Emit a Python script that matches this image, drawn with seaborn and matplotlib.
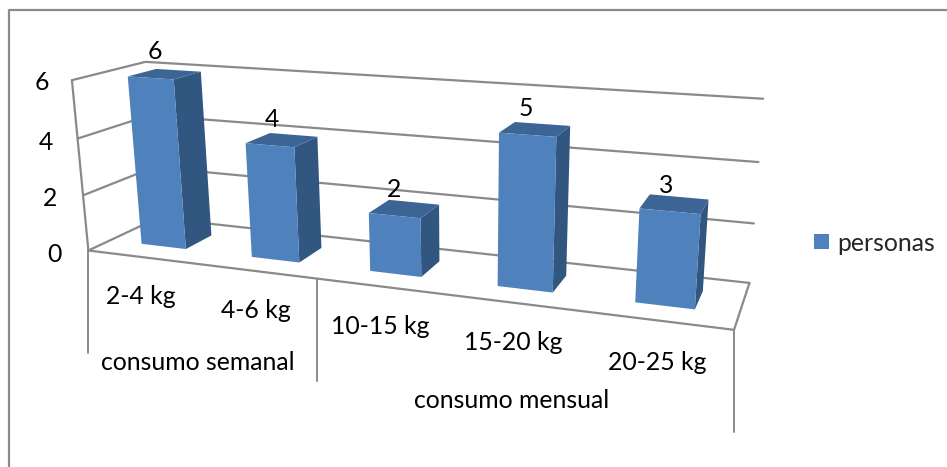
import numpy as np
import pandas as pd
import matplotlib
matplotlib.use("Agg")
import matplotlib.pyplot as plt
from matplotlib.patches import Patch
from matplotlib.transforms import Transform
import seaborn as sns

# Chart data
categories = ["2-4 kg", "4-6 kg", "10-15 kg", "15-20 kg", "20-25 kg"]
groups = ["consumo semanal", "consumo semanal", "consumo mensual", "consumo mensual", "consumo mensual"]
personas = [6, 4, 2, 5, 3]
value_ticks = [0, 2, 4, 6]
series_name = "personas"

# Label placement on the canvas (pixels, y downwards)
category_label_xy = [(141, 297), (255.5, 310), (380, 327), (513, 343), (657, 362)]
group_label_xy = {"consumo semanal": (197.5, 363), "consumo mensual": (512, 401)}
tick_label_xy = [(54, 254), (50, 198), (46, 142), (42, 83)]

FRONT, SIDE, TOP = "#4f81bd", "#31567f", "#3c6494"
GRID = "#8a8a8a"
W, H = 947, 467
BAR_WIDTH = 0.41
DEPTH_NEAR, DEPTH_FAR = 0.30, 0.70
FONT_SIZE = 17.8

sns.set_theme(style="white")
plt.rcParams["font.family"] = ["Lato", "DejaVu Sans"]

# Perspective camera of the 3-D box: (x across, d into the page, z value) -> canvas pixels
box_points = np.array([
    (0, 0, 0, 87, 251), (0, 1, 0, 159, 218), (1, 1, 0, 749, 283), (1, 0, 0, 734, 330),
    (0, 0, 6, 73, 80.5), (0, 1, 6, 144, 62), (1, 1, 6, 763, 99),
    (0, 0, 4, 78, 138), (0, 0, 2, 83, 195), (1, 1, 4, 759, 162), (1, 1, 2, 754, 223),
], dtype=float)
rows, rhs = [], []
for bx, bd, bz, px, py in box_points:
    rows.append([bx, bd, bz, 1, 0, 0, 0, 0, -px * bx, -px * bd, -px * bz])
    rows.append([0, 0, 0, 0, bx, bd, bz, 1, -py * bx, -py * bd, -py * bz])
    rhs += [px, py]
cam = np.append(np.linalg.lstsq(np.array(rows), np.array(rhs), rcond=None)[0], 1.0).reshape(3, 4)


def project(x, d, z):
    x, d, z = np.broadcast_arrays(np.asarray(x, float), np.asarray(d, float), np.asarray(z, float))
    p = cam @ np.vstack([x.ravel(), d.ravel(), z.ravel(), np.ones(x.size)])
    return np.column_stack([p[0] / p[2], p[1] / p[2]])


class DepthPlane(Transform):
    """Maps (category position, value) onto a vertical plane of the box at a given depth."""
    input_dims = output_dims = 2
    has_inverse = False

    def __init__(self, plane_depth, count):
        super().__init__()
        self.plane_depth, self.count = plane_depth, count

    def transform_non_affine(self, values):
        values = np.asarray(values, float)
        return project((values[:, 0] + 0.5) / self.count, self.plane_depth, values[:, 1])


def box_line(ax, xs, ds, zs, **kw):
    pts = project(xs, ds, zs)
    ax.plot(pts[:, 0], pts[:, 1], color=GRID, lw=1.6, zorder=1, solid_capstyle="round", **kw)


fig = plt.figure(figsize=(W / 100, H / 100), dpi=100, facecolor="white")
ax = fig.add_axes([0, 0, 1, 1])

df = pd.DataFrame({"categoria": categories, "personas": personas})
sns.barplot(data=df, x="categoria", y="personas", color=FRONT, saturation=1,
            width=BAR_WIDTH, ax=ax, zorder=3, linewidth=0)
ax.set_xlim(0, W)
ax.set_ylim(H, 0)
ax.axis("off")

# Front faces come from seaborn; side and top faces follow from the same rectangles
n = len(categories)
near = DepthPlane(DEPTH_NEAR, n) + ax.transData
for bar in ax.patches:
    bar.set_transform(near)
    bar.set_clip_on(False)
    x0, x1, v = bar.get_x(), bar.get_x() + bar.get_width(), bar.get_height()
    u0, u1 = (x0 + 0.5) / n, (x1 + 0.5) / n
    side = project([u1, u1, u1, u1], [DEPTH_NEAR, DEPTH_FAR, DEPTH_FAR, DEPTH_NEAR], [0, 0, v, v])
    top = project([u0, u1, u1, u0], [DEPTH_NEAR, DEPTH_NEAR, DEPTH_FAR, DEPTH_FAR], [v, v, v, v])
    ax.fill(side[:, 0], side[:, 1], color=SIDE, lw=0, zorder=2.9)
    ax.fill(top[:, 0], top[:, 1], color=TOP, lw=0, zorder=2.9)

# Walls and floor of the box
for tick in value_ticks:
    box_line(ax, [0, 0, 1], [0, 1, 1], [tick] * 3)
zmax = value_ticks[-1]
box_line(ax, [0, 0], [0, 0], [0, zmax])
box_line(ax, [0, 1, 1], [0, 0, 1], [0, 0, 0])

# Outer chart frame, open at the right and bottom
ax.plot([8.5, 8.5, W], [H, 10, 10], color="#8c8c8c", lw=1.6, zorder=1)

# Separators of the two-level category axis
group_edges = [0, groups.count(groups[0]) / n, 1]
for edge in group_edges:
    top_pt = project(edge, 0, 0)[0]
    ax.plot([top_pt[0]] * 2, [top_pt[1], top_pt[1] + 102], color=GRID, lw=1.4, zorder=1)

text_kw = dict(fontsize=FONT_SIZE, ha="center", va="center", color="black")
for (tx, ty), tick in zip(tick_label_xy, value_ticks):
    ax.text(tx, ty, str(tick), **text_kw)
for (tx, ty), label in zip(category_label_xy, categories):
    ax.text(tx, ty, label, **text_kw)
for label, (tx, ty) in group_label_xy.items():
    ax.text(tx, ty, label, **text_kw)

# Value labels sit above the front edge of each bar top
for i, v in enumerate(personas):
    px, py = project((i + 0.5) / n, DEPTH_NEAR, v)[0]
    ax.text(px + 4 - 2 * i, py - 26, str(v), **text_kw)

ax.legend(handles=[Patch(facecolor=FRONT, edgecolor="none", label=series_name)], loc="center left",
          bbox_to_anchor=(814 / W, 1 - 243 / H), bbox_transform=fig.transFigure,
          frameon=False, fontsize=FONT_SIZE, handlelength=0.61, handleheight=0.57,
          handletextpad=0.33, borderpad=0, borderaxespad=0)

fig.savefig("out.png", dpi=100, facecolor="white")
